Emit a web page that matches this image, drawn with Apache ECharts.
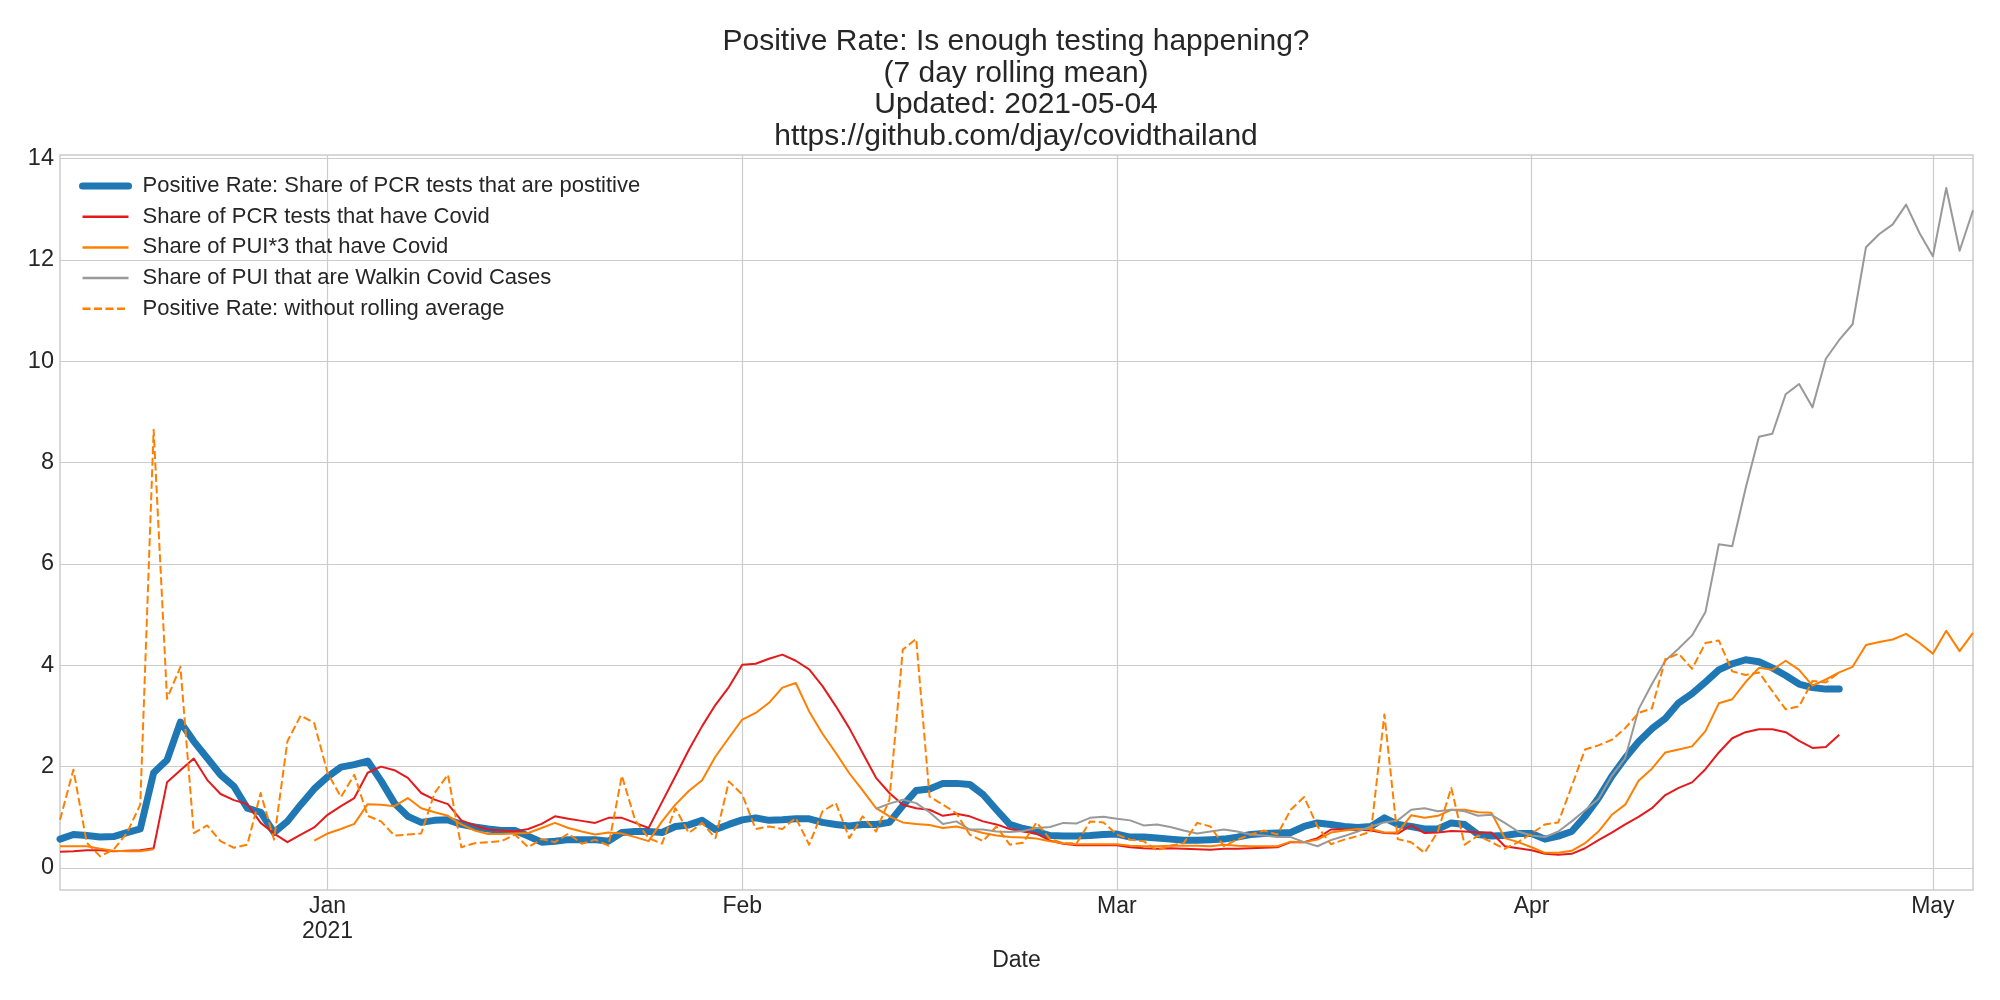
<!DOCTYPE html>
<html>
<head>
<meta charset="utf-8">
<script src="https://cdn.jsdelivr.net/npm/echarts@6/dist/echarts.min.js"></script>
<style>
html,body{margin:0;padding:0;background:#fff;}
#chart{width:2000px;height:1000px;}
</style>
</head>
<body>
<div id="chart"></div>
<script>
// ---- Data ----
const startDate = '2020-12-12';
const dayCount = 144; // 2020-12-12 .. 2021-05-04
const monthTicks = {'2021-01-01':'Jan\n2021','2021-02-01':'Feb','2021-03-01':'Mar','2021-04-01':'Apr','2021-05-01':'May'};
const yTicks = [0, 2, 4, 6, 8, 10, 12, 14];

const titleLines = ['Positive Rate: Is enough testing happening?', '(7 day rolling mean)', 'Updated: 2021-05-04', 'https://github.com/djay/covidthailand'];

const seriesNames = [
  'Positive Rate: Share of PCR tests that are postitive',
  'Share of PCR tests that have Covid',
  'Share of PUI*3 that have Covid',
  'Share of PUI that are Walkin Covid Cases',
  'Positive Rate: without rolling average'
];

// Positive rate (7 day rolling), from 2020-12-12
const positiveRate = [0.57,0.66,0.64,0.61,0.62,0.70,0.77,1.88,2.13,2.88,
 2.50,2.17,1.84,1.61,1.18,1.10,0.70,0.92,1.25,1.56,
 1.80,1.99,2.04,2.11,1.72,1.28,1.02,0.90,0.94,0.95,
 0.86,0.81,0.77,0.74,0.74,0.63,0.51,0.53,0.56,0.56,
 0.56,0.53,0.70,0.72,0.72,0.70,0.82,0.85,0.94,0.76,
 0.86,0.95,0.99,0.94,0.95,0.97,0.97,0.90,0.86,0.83,
 0.86,0.86,0.90,1.23,1.53,1.56,1.67,1.67,1.65,1.45,
 1.15,0.86,0.78,0.72,0.64,0.63,0.63,0.64,0.66,0.67,
 0.61,0.61,0.59,0.57,0.55,0.55,0.56,0.57,0.61,0.66,
 0.68,0.69,0.70,0.82,0.89,0.86,0.82,0.80,0.82,0.99,
 0.86,0.82,0.77,0.77,0.89,0.86,0.66,0.63,0.64,0.68,
 0.68,0.57,0.63,0.72,1.02,1.38,1.81,2.17,2.49,2.75,
 2.95,3.26,3.44,3.67,3.91,4.03,4.11,4.07,3.95,3.80,
 3.63,3.56,3.53,3.53];

// Share of PCR tests that have Covid, from 2020-12-12
const pcrCovid = [0.32,0.33,0.35,0.35,0.33,0.34,0.35,0.39,1.69,1.93,
 2.16,1.74,1.46,1.34,1.26,0.89,0.68,0.51,0.66,0.80,
 1.05,1.22,1.38,1.88,2.00,1.93,1.78,1.48,1.35,1.26,
 0.94,0.84,0.76,0.74,0.72,0.77,0.87,1.02,0.97,0.93,
 0.89,0.99,0.99,0.89,0.79,1.30,1.81,2.33,2.80,3.22,
 3.57,4.01,4.03,4.13,4.21,4.09,3.92,3.59,3.19,2.76,
 2.27,1.78,1.48,1.25,1.18,1.15,1.03,1.07,1.02,0.92,
 0.86,0.77,0.72,0.68,0.54,0.48,0.45,0.45,0.45,0.45,
 0.41,0.39,0.38,0.39,0.38,0.37,0.36,0.38,0.38,0.39,
 0.40,0.41,0.51,0.51,0.59,0.76,0.76,0.76,0.74,0.69,
 0.68,0.84,0.69,0.70,0.73,0.72,0.70,0.70,0.43,0.39,
 0.35,0.28,0.26,0.28,0.39,0.55,0.70,0.86,1.01,1.18,
 1.44,1.58,1.69,1.95,2.28,2.56,2.68,2.74,2.74,2.68,
 2.51,2.37,2.39,2.63];

// Share of PUI*3 that have Covid, from 2020-12-12 (null = no data)
const puiCovid = [0.43,0.43,0.43,0.38,0.34,0.33,0.33,0.37,null,null,
 null,null,null,null,null,null,null,null,null,0.54,
 0.68,0.77,0.87,1.26,1.25,1.22,1.38,1.18,1.10,1.03,
 0.86,0.74,0.67,0.67,0.68,0.69,0.79,0.89,0.79,0.72,
 0.66,0.70,0.68,0.61,0.53,0.92,1.25,1.52,1.73,2.20,
 2.57,2.93,3.06,3.26,3.56,3.65,3.09,2.65,2.27,1.87,
 1.53,1.18,1.02,0.90,0.87,0.85,0.79,0.82,0.76,0.69,
 0.64,0.61,0.60,0.58,0.53,0.49,0.47,0.47,0.47,0.47,
 0.44,0.43,0.43,0.44,0.44,0.44,0.43,0.46,0.44,0.43,
 0.43,0.43,0.52,0.51,0.56,0.70,0.74,0.77,0.77,0.70,
 0.70,1.04,0.99,1.03,1.15,1.15,1.10,1.09,0.59,0.51,
 0.41,0.30,0.30,0.34,0.49,0.72,1.05,1.25,1.72,1.96,
 2.28,2.34,2.40,2.70,3.25,3.33,3.67,3.95,3.91,4.09,
 3.91,3.60,3.72,3.86,3.97,4.40,4.46,4.51,4.62,4.44,
 4.23,4.68,4.28,4.64];

// Share of PUI that are Walkin Covid Cases, starts 2021-02-11
const walkinStart = '2021-02-11';
const walkinCovid = [1.17,1.27,1.35,1.28,1.10,0.87,0.92,0.76,0.76,
 0.72,0.71,0.73,0.79,0.81,0.89,0.88,0.99,1.01,0.97,
 0.94,0.84,0.86,0.81,0.74,0.68,0.72,0.76,0.72,0.66,
 0.64,0.61,0.61,0.51,0.43,0.55,0.63,0.72,0.82,0.90,
 0.94,1.15,1.18,1.12,1.15,1.12,1.03,1.05,0.89,0.72,
 0.64,0.61,0.72,0.92,1.14,1.36,1.82,2.17,3.13,3.63,
 4.09,4.33,4.59,5.05,6.39,6.35,7.49,8.51,8.57,9.35,
 9.55,9.09,10.05,10.42,10.73,12.25,12.51,12.70,13.09,12.53,
 12.07,13.42,12.18,12.98];

// Positive rate without rolling average, from 2020-12-12
const positiveRaw = [0.95,1.94,0.50,0.23,0.36,0.69,1.25,8.65,3.34,3.97,
 0.69,0.84,0.53,0.40,0.46,1.48,0.56,2.50,3.01,2.86,
 1.88,1.40,1.84,1.03,0.92,0.64,0.66,0.68,1.48,1.84,
 0.41,0.49,0.51,0.53,0.66,0.41,0.57,0.51,0.68,0.48,
 0.56,0.44,1.82,0.94,0.59,0.48,1.18,0.69,0.89,0.59,
 1.71,1.45,0.77,0.82,0.77,0.99,0.46,1.12,1.28,0.59,
 1.02,0.72,1.35,4.31,4.52,1.41,1.25,1.08,0.66,0.53,
 0.82,0.46,0.50,0.90,0.57,0.49,0.49,0.92,0.90,0.66,
 0.56,0.53,0.35,0.44,0.49,0.89,0.82,0.43,0.56,0.66,
 0.74,0.66,1.15,1.40,0.82,0.47,0.56,0.63,0.72,3.03,
 0.57,0.51,0.30,0.72,1.58,0.46,0.64,0.51,0.38,0.51,
 0.68,0.86,0.90,1.61,2.34,2.42,2.53,2.76,3.06,3.15,
 4.12,4.23,3.93,4.44,4.49,3.88,3.81,3.86,3.49,3.13,
 3.19,3.69,3.66,3.86];

// ---- Build category axis (dates) ----
function ymd(d){ return d.toISOString().slice(0,10); }
const dates = [];
{
  const t0 = new Date(startDate + 'T00:00:00Z');
  for (let i = 0; i < dayCount; i++) dates.push(ymd(new Date(t0.getTime() + i*86400000)));
}
const walkinOffset = dates.indexOf(walkinStart);
const walkinData = dates.map((_, i) => (i >= walkinOffset && i - walkinOffset < walkinCovid.length) ? walkinCovid[i - walkinOffset] : null);

const FONT = '"Liberation Sans", Arial, sans-serif';
const TXT = '#262626';
const isTick = (idx, val) => Object.prototype.hasOwnProperty.call(monthTicks, val);

const styles = [
  {color: '#1f77b4', width: 7, type: 'solid'},
  {color: '#e41a1c', width: 2, type: 'solid'},
  {color: '#ff7f00', width: 2, type: 'solid'},
  {color: '#999999', width: 2, type: 'solid'},
  {color: '#ff7f00', width: 2, type: [8, 3.5]}
];
const seriesData = [positiveRate, pcrCovid, puiCovid, walkinData, positiveRaw];

const chart = echarts.init(document.getElementById('chart'), null, {renderer: 'canvas'});
chart.setOption({
  animation: false,
  backgroundColor: '#ffffff',
  textStyle: {fontFamily: FONT},
  title: {
    text: titleLines.join('\n'),
    left: 1016,
    top: 26,
    padding: 0,
    textAlign: 'center',
    textStyle: {fontFamily: FONT, fontSize: 30, fontWeight: 'normal', color: TXT, lineHeight: 31.5}
  },
  grid: {left: 60, right: 27, top: 155, bottom: 110, show: true, borderColor: '#cccccc', borderWidth: 1.5, backgroundColor: 'transparent'},
  legend: {
    orient: 'vertical',
    left: 79,
    top: 175,
    padding: 0,
    itemWidth: 46,
    itemHeight: 20,
    itemGap: 8.7,
    itemStyle: {opacity: 0},
    data: seriesNames.map((n, i) => ({
      name: n,
      itemStyle: {opacity: 0},
      lineStyle: {color: styles[i].color, width: i === 0 ? 7 : 2.5, type: styles[i].type, cap: i === 0 ? 'round' : 'butt'}
    })),
    textStyle: {fontFamily: FONT, fontSize: 22, lineHeight: 20, color: TXT, padding: [0, 0, 0, 9]}
  },
  xAxis: {
    type: 'category',
    data: dates,
    boundaryGap: false,
    name: 'Date',
    nameLocation: 'middle',
    nameGap: 58,
    nameTextStyle: {fontFamily: FONT, fontSize: 23, color: TXT},
    axisLine: {show: false},
    axisTick: {show: false},
    axisLabel: {interval: isTick, formatter: v => monthTicks[v] || '', fontFamily: FONT, fontSize: 23, color: TXT, lineHeight: 25, margin: 4},
    splitLine: {show: true, interval: isTick, lineStyle: {color: '#cccccc', width: 1.2}}
  },
  yAxis: {
    type: 'value',
    min: -0.434,
    max: 14.07,
    axisLine: {show: false},
    axisTick: {show: false, customValues: yTicks},
    axisLabel: {customValues: yTicks, fontFamily: FONT, fontSize: 23.5, color: TXT, margin: 6},
    splitLine: {show: true, lineStyle: {color: '#cccccc', width: 1.2}}
  },
  series: seriesNames.map((n, i) => ({
    name: n,
    type: 'line',
    data: seriesData[i],
    symbol: 'none',
    color: styles[i].color,
    lineStyle: {width: styles[i].width, color: styles[i].color, type: styles[i].type, cap: i === 0 ? 'round' : 'butt', join: 'round'}
  }))
});
</script>
</body>
</html>
